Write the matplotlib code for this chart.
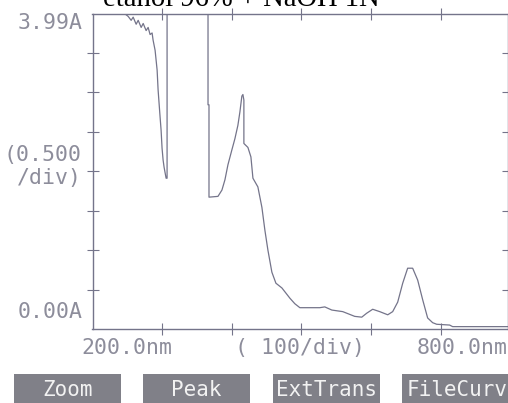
import matplotlib
matplotlib.use("Agg")
import matplotlib.pyplot as plt
from matplotlib.patches import Rectangle

# ---- data ----
wavelength_nm = [246.9, 251.2, 255.5, 258.4, 262.7, 265.6, 269.9, 272.8, 277.0, 279.9,
                 282.7, 285.6, 287.0, 289.9, 292.8, 294.2, 297.1, 298.5, 299.9, 301.4,
                 302.8, 305.7, 307.1, 307.1, 365.9, 365.9, 367.3, 367.3, 380.2, 385.9,
                 390.2, 394.5, 400.2, 404.5, 408.8, 411.7, 414.5, 416.0, 417.4, 417.4,
                 423.2, 427.5, 430.4, 437.5, 443.3, 447.6, 451.9, 457.6, 463.4, 472.0,
                 483.5, 490.6, 497.8, 526.5, 533.6, 543.7, 559.4, 576.6, 586.7, 593.8,
                 602.4, 612.5, 624.0, 631.1, 638.3, 645.5, 652.6, 659.8, 667.0, 674.2,
                 681.3, 688.5, 694.3, 712.9, 717.2, 796.1]
absorbance = [3.99, 3.96, 3.91, 3.95, 3.86, 3.91, 3.82, 3.87, 3.78, 3.82,
              3.73, 3.75, 3.66, 3.53, 3.28, 3.03, 2.68, 2.52, 2.29, 2.14,
              2.05, 1.91, 1.91, 4.05, 4.05, 2.84, 2.84, 1.67, 1.68, 1.76,
              1.89, 2.08, 2.27, 2.41, 2.58, 2.75, 2.95, 2.97, 2.90, 2.35,
              2.30, 2.18, 1.91, 1.80, 1.54, 1.25, 1.00, 0.72, 0.58, 0.52,
              0.39, 0.32, 0.27, 0.27, 0.28, 0.24, 0.22, 0.16, 0.15, 0.20,
              0.25, 0.22, 0.18, 0.22, 0.34, 0.58, 0.77, 0.77, 0.62, 0.37,
              0.14, 0.08, 0.06, 0.05, 0.03, 0.03]

x_ticks = [300, 400, 500, 600, 700]
y_ticks = [0.5, 1.0, 1.5, 2.0, 2.5, 3.0, 3.5]
title = "etanol 96% + NaOH 1N"
y_top_label = "3.99A"
y_bottom_label = "0.00A"
y_scale_label = ["(0.500", "/div)"]
x_labels = ["200.0nm", "( 100/div)", "800.0nm"]
buttons = ["Zoom", "Peak", "ExtTrans", "FileCurv"]

W, H = 508, 403
fig = plt.figure(figsize=(W / 100, H / 100), dpi=100)
fig.patch.set_facecolor("white")

def fx(px):
    return px / W

def fy(py):
    return 1 - py / H

grey_txt = "#8d8d9b"
grey_line = "#74748a"
mono = "DejaVu Sans Mono"

ax_l, ax_r, ax_t, ax_b = 92.5, 507.5, 14, 329
ax = fig.add_axes([fx(ax_l), fy(ax_b), (ax_r - ax_l) / W, (ax_b - ax_t) / H])
ax.plot(wavelength_nm, absorbance, color=grey_line, lw=0.9)
ax.set_xlim(200, 796)
ax.set_ylim(0, 3.99)
ax.set_xticks(x_ticks)
ax.set_yticks(y_ticks)
ax.tick_params(which="both", direction="inout", length=8, width=0.8, color=grey_line,
               labelbottom=False, labelleft=False, top=True, right=True)
for s in ax.spines.values():
    s.set_color(grey_line)
    s.set_linewidth(1.0)

# title (cut off at the top in the scan, as in the reference)
fig.text(fx(241.5), fy(6), title, family="Liberation Serif", fontsize=20.6,
         ha="center", va="baseline", color="black")

fs = 15.5
fig.text(fx(83), fy(23), y_top_label, family=mono, fontsize=fs, color=grey_txt,
         ha="right", va="center")
fig.text(fx(83), fy(312), y_bottom_label, family=mono, fontsize=fs, color=grey_txt,
         ha="right", va="center")
fig.text(fx(82), fy(155), y_scale_label[0], family=mono, fontsize=fs, color=grey_txt,
         ha="right", va="center")
fig.text(fx(82), fy(178), y_scale_label[1], family=mono, fontsize=fs, color=grey_txt,
         ha="right", va="center")

for cx, lab in zip([127, 300, 462], x_labels):
    fig.text(fx(cx), fy(348), lab, family=mono, fontsize=fs, color=grey_txt,
             ha="center", va="center")

# soft-key buttons
btn_x = [(14, 121), (143, 250), (273, 380), (402, 512)]
for (x0, x1), lab in zip(btn_x, buttons):
    fig.patches.append(Rectangle((fx(x0), fy(406)), (x1 - x0) / W, (406 - 374) / H,
                                 transform=fig.transFigure, facecolor="#808088",
                                 edgecolor="none"))
    fig.text(fx((x0 + x1) / 2), fy(390), lab, family=mono, fontsize=15,
             color="#f2f2f2", ha="center", va="center")

fig.savefig("out.png", dpi=100)
